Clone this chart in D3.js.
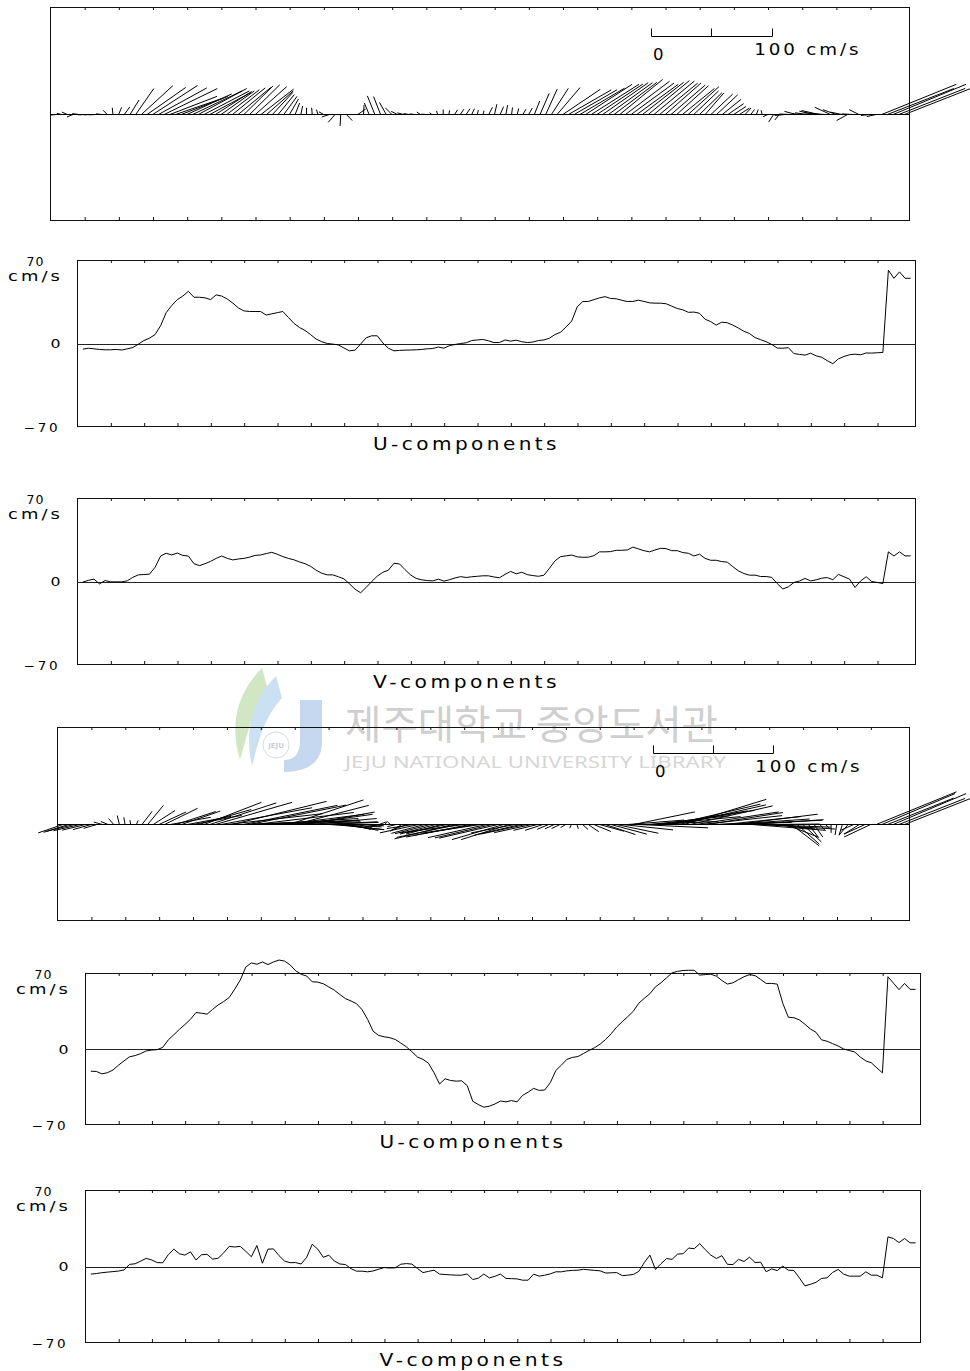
<!DOCTYPE html>
<html>
<head>
<meta charset="utf-8">
<script src="https://cdn.jsdelivr.net/npm/d3@7"></script>
<style>
  body { margin: 0; background: #fff; }
  svg { display: block; }
  text { font-family: "DejaVu Sans", sans-serif; fill: #000; }
</style>
</head>
<body>
<svg id="chart" width="970" height="1371"></svg>
<script>
"use strict";

// time axis: one sample every 4 hours, first sample a little after day 0
const START_DAY = 0.16;
const STEP_DAY = 1 / 6;
const DAY_SPAN = 25.14;
const dayTicks = d3.range(1, 25);
const valueTicks = [70, 0, -70];

// upper set (cm/s)
const uA = [
  -4.8, -4, -4.5, -5, -5.3, -5.3, -5, -5.5, -4.5, -3.4,
  -0.5, 2.5, 4.5, 7.5, 15, 26, 32, 37, 40, 44,
  39, 39, 38.5, 37, 41, 40, 37.5, 34, 30, 27.5,
  27, 27, 27, 24, 25, 26, 27, 22, 17, 13.5,
  11, 7.5, 3.7, 1.5, 0, -0.5, -1.2, -3.8, -6.2, -5.6,
  -0.5, 4.8, 6.5, 6.5, 0.5, -4, -6.2, -5.8, -5.6, -5.5,
  -5.3, -5, -4.5, -4.2, -3, -4, -1.8, -0.8, 0, 0.6,
  2.5, 3, 3.4, 2.3, 0.8, 0.8, 3, 2, 2.8, 1.5,
  0.8, 1.2, 2.5, 3, 4.5, 7.6, 9.5, 14, 19, 31,
  35.4, 35.5, 37, 38.5, 39.5, 38, 37.7, 36.5, 35.4, 35.5,
  36.5, 35.5, 34.3, 34, 34, 33.5, 31.5, 29.5, 28.4, 26.3,
  26.5, 25.5, 20.5, 18.5, 15.5, 18, 17.5, 15.5, 13, 10.3,
  8.4, 5, 3.2, 1.5, -0.8, -3.9, -4, -3.5, -8.5, -9.2,
  -9.8, -8.2, -10.4, -11.6, -14.5, -17, -13, -11, -9.5, -9,
  -9.5, -8, -8.1, -7.8, -7.6, 61.8, 55, 60.4, 55, 55
];
const vA = [
  -0.5, 1, 2, -2, 0.8, -0.3, -0.3, -0.3, 0.6, 3.5,
  5.6, 5.9, 6.2, 12, 21.5, 23.8, 22.4, 24, 22, 21.5,
  15, 13.4, 15, 17, 19.5, 21.5, 19.5, 18.2, 19, 19.5,
  20.5, 22, 22.4, 23.5, 24.6, 23, 21, 19.5, 18.3, 16.5,
  15, 12.8, 9.5, 7, 5.6, 5.6, 4, 2.2, -2, -6.5,
  -9.5, -5, 0, 4.5, 7.8, 9.5, 15.4, 14.8, 10, 5.5,
  2.6, 1.4, 0.8, 0.5, 2, 0.3, 1.5, 3, 4.1, 3.4,
  4, 4.4, 4.8, 4.8, 3.8, 3.2, 6, 8.5, 6.5, 7.8,
  5.8, 5, 4.4, 5.3, 11.2, 17.5, 21, 21.6, 22.3, 20.8,
  20.4, 20.5, 21.8, 25, 25, 25.2, 26.3, 26.3, 26.6, 29,
  27.5, 26, 25, 26.6, 28, 27.7, 26, 26, 24.4, 23.8,
  21.5, 23, 19.5, 17.9, 17.9, 16.8, 16.3, 12.5, 9, 6.7,
  5.3, 5.4, 4.2, 4.2, 3.5, -1.8, -6.3, -4.5, -0.8, 0.4,
  2.6, 0.5, 1.4, 2.8, 3.3, 1.5, 6, 4, 2, -5,
  0.5, 4, 0, -0.8, -1.7, 25, 21.5, 25, 21.6, 21.6
];

// lower set (cm/s)
const uB = [
  -20.6, -20.8, -23, -22, -19.5, -15, -11, -7.2, -6.1, -4.3,
  -1.8, -1, -0.6, 1.5, 8.5, 13.2, 18.2, 22.7, 27.5, 33.8,
  33.2, 32.3, 36.7, 40.8, 44, 47.8, 55.5, 64, 76, 79.8,
  78.6, 80.7, 78.3, 80.7, 82.5, 81.5, 78, 72.5, 69.3, 67.6,
  62.3, 62, 60.5, 57.5, 54.5, 50.5, 46.7, 44.5, 42, 36.5,
  27.5, 16.5, 12.6, 11.3, 10.5, 8.8, 5.5, 2, -2.5, -7.4,
  -9.6, -13.2, -22, -32.5, -27.6, -29.2, -29.8, -29.5, -34, -48.5,
  -51.5, -54, -53, -51, -48.2, -49, -47.8, -49, -43, -40,
  -36.5, -38.4, -38, -31.3, -20, -15, -9.6, -7.8, -7, -4.2,
  -1.3, 1.2, 4.5, 8.8, 14.1, 20.4, 25.3, 30, 35, 42.5,
  47, 51.3, 57.6, 61.4, 66, 70.6, 72, 72.8, 73, 73,
  68.5, 69, 69.4, 67.5, 63.5, 60.2, 61.4, 64.3, 67, 69,
  68, 64.5, 60.8, 60.8, 60.2, 42.4, 29.5, 29, 27, 23,
  18.5, 15.5, 8.5, 7.2, 5, 2.8, 0, -1.4, -2.8, -7.5,
  -11, -12.8, -17.5, -22.1, 67, 61, 55, 60.8, 55.3, 55.3
];
const vB = [
  -7, -6.5, -5.7, -5.2, -4.7, -4.2, -3.2, 2, 2.5, 4.9,
  7.5, 6, 3.6, 3.4, 11, 16, 11.7, 10.5, 13.5, 6,
  10.8, 11.2, 6.8, 7.6, 12.5, 18.5, 18, 18.5, 14, 9,
  19.3, 3, 16, 16.2, 10, 5, 3.5, 3.6, 2.3, 8.5,
  20.5, 16, 8.5, 10.4, 5, 2.3, 1.8, -2, -4.3, -4.3,
  -4.9, -4.1, -2.5, -1, -1.4, -1.2, 2.1, 2.7, 2.2, -1.8,
  -5.6, -4.5, -3.4, -7, -7.4, -7.7, -8, -8, -6.9, -12,
  -10.8, -7, -10.5, -9, -7, -11, -11.2, -11.4, -12.6, -12.6,
  -7, -8.9, -8, -6.8, -4.9, -4.9, -4, -3.6, -3.4, -2.6,
  -3.1, -3.6, -4, -6, -5.8, -5.6, -8.4, -8, -7.3, -4.5,
  3.7, 10.5, -2.8, 2.6, 7.3, 6.6, 11.4, 11.8, 17, 16.4,
  21, 15.5, 10.5, 7.4, 10, 2, 1.8, 6.6, 4.6, 8.6,
  3.6, 4, -4.8, -2.2, -3.8, 0.4, -3.4, -3.7, -10.5, -17.8,
  -16.4, -14.6, -11, -10.4, -5.5, -2.7, -7, -8.9, -8.9, -8.9,
  -4.9, -8, -8, -10.4, 27.3, 25.8, 22, 25.8, 21.8, 21.8
];

// page layout
const stickPanels = [
  { u: uA, v: vA, left: 50.5, right: 909.5, top: 7.5, bottom: 220.5, barX: 651.5, barY: 36.5 },
  { u: uB, v: vB, left: 57.5, right: 909.5, top: 727.5, bottom: 920.5, barX: 653.5, barY: 753.5 }
];
const seriesPanels = [
  { data: uA, title: "U-components", left: 77.5, right: 915.5, top: 260.5, bottom: 426.5 },
  { data: vA, title: "V-components", left: 77.5, right: 915.5, top: 498.5, bottom: 664.5 },
  { data: uB, title: "U-components", left: 85.5, right: 920.5, top: 973.5, bottom: 1124.5 },
  { data: vB, title: "V-components", left: 85.5, right: 920.5, top: 1190.5, bottom: 1342.5 }
];

const svg = d3.select("#chart");
const dayOf = i => START_DAY + i * STEP_DAY;
const fmt = d3.format("d");

// the plotter font is wide and open: add letter spacing, then stretch a little to the measured width
function wide(sel, size, width, spacing) {
  return sel.attr("font-size", size)
    .style("letter-spacing", `${spacing}px`)
    .attr("textLength", width)
    .attr("lengthAdjust", "spacingAndGlyphs");
}

// watermark sits underneath everything
drawWatermark(svg.append("g").attr("id", "watermark"));

function frameAndTicks(g, x, top, bottom, left, right) {
  g.append("rect")
    .attr("x", left).attr("y", top)
    .attr("width", right - left).attr("height", bottom - top)
    .attr("fill", "none").attr("stroke", "#111").attr("stroke-width", 1);
  g.append("g")
    .attr("transform", `translate(0,${top - 0.5})`)
    .call(d3.axisBottom(x).tickValues(dayTicks).tickSize(3).tickFormat(""))
    .call(a => a.select(".domain").remove())
    .call(a => a.selectAll("line").attr("stroke", "#111"));
  g.append("g")
    .attr("transform", `translate(0,${bottom - 0.5})`)
    .call(d3.axisTop(x).tickValues(dayTicks).tickSize(3).tickFormat(""))
    .call(a => a.select(".domain").remove())
    .call(a => a.selectAll("line").attr("stroke", "#111"));
}

// stick (vector) plots
stickPanels.forEach((p, n) => {
  const g = svg.append("g").attr("id", `stick${n}`);
  const x = d3.scaleLinear().domain([0, DAY_SPAN]).range([p.left, p.right]);
  const speed = d3.scaleLinear().domain([0, 100]).range([0, 0.1406 * (p.right - p.left)]);
  const yb = Math.round((p.top + p.bottom) / 2) + 0.5;

  frameAndTicks(g, x, p.top, p.bottom, p.left, p.right);

  g.append("line")
    .attr("x1", p.left).attr("x2", p.right)
    .attr("y1", yb).attr("y2", yb)
    .attr("stroke", "#000");

  g.append("g").selectAll("line")
    .data(p.u.map((u, i) => ({ t: dayOf(i), u: u, v: p.v[i] })))
    .join("line")
    .attr("x1", d => x(d.t))
    .attr("y1", yb)
    .attr("x2", d => x(d.t) + speed(d.u))
    .attr("y2", d => yb - speed(d.v))
    .attr("stroke", "#000")
    .attr("stroke-width", 1);

  // 0 - 100 cm/s scale bar
  const bar = g.append("g").attr("transform", `translate(${p.barX},${p.barY})`);
  bar.append("line").attr("x1", 0).attr("x2", speed(100)).attr("stroke", "#000");
  bar.selectAll("line.tk")
    .data([0, 50, 100])
    .join("line").attr("class", "tk")
    .attr("x1", d => Math.round(speed(d))).attr("x2", d => Math.round(speed(d)))
    .attr("y1", 0).attr("y2", -8)
    .attr("stroke", "#000");
  bar.append("text")
    .attr("x", 1.5).attr("y", 23)
    .attr("font-size", 16.5)
    .text("0");
  wide(bar.append("text"), 16, 107, 2.5)
    .attr("x", speed(100) - 18).attr("y", 18)
    .text("100 cm/s");
});

// U / V time series
seriesPanels.forEach((p, n) => {
  const g = svg.append("g").attr("id", `series${n}`);
  const x = d3.scaleLinear().domain([0, DAY_SPAN]).range([p.left, p.right]);
  const y = d3.scaleLinear().domain([-70, 70]).range([p.bottom, p.top]);

  frameAndTicks(g, x, p.top, p.bottom, p.left, p.right);

  const y0 = Math.round(y(0)) + 0.5;
  g.append("line")
    .attr("x1", p.left).attr("x2", p.right)
    .attr("y1", y0).attr("y2", y0)
    .attr("stroke", "#222");

  g.append("path")
    .datum(p.data)
    .attr("fill", "none")
    .attr("stroke", "#000")
    .attr("stroke-width", 1)
    .attr("stroke-linejoin", "round")
    .attr("d", d3.line().x((d, i) => x(dayOf(i))).y(d => y(d)));

  // value labels
  const labelX = p.left - 17;
  const midX = p.left - 42;
  valueTicks.forEach(v => {
    const t = g.append("text").text(fmt(v));
    if (v === 70) {
      wide(t, 12, 18, 1).attr("x", midX).attr("y", p.top + 5).attr("text-anchor", "middle");
    } else if (v === 0) {
      wide(t, 12.5, 10, 0).attr("x", labelX).attr("y", y(0) + 4.5).attr("text-anchor", "end");
    } else {
      wide(t, 12, 37, 2.5).attr("x", labelX).attr("y", p.bottom + 5).attr("text-anchor", "end");
    }
  });
  wide(g.append("text"), 14.5, 55, 2.5)
    .attr("x", midX).attr("y", p.top + 20.5)
    .attr("text-anchor", "middle")
    .text("cm/s");

  wide(g.append("text"), 17.5, 187, 3)
    .attr("x", (p.left + p.right) / 2 - 30)
    .attr("y", p.bottom + 23.5)
    .attr("text-anchor", "middle")
    .text(p.title);
});

function drawWatermark(g) {
  g.attr("opacity", 0.4);
  // leaf swooshes
  g.append("path")
    .attr("d", "M262,668 C240,690 228,720 240,760 C246,740 250,715 268,690 Z")
    .attr("fill", "#8fc46a");
  g.append("path")
    .attr("d", "M276,676 C252,700 244,730 252,766 C258,745 262,720 282,698 Z")
    .attr("fill", "#7fb6e0");
  // J block
  g.append("path")
    .attr("d", "M300,700 L322,700 L322,742 C322,762 308,772 284,772 L284,760 C296,760 300,752 300,740 Z")
    .attr("fill", "#6f9fd8");
  g.append("circle")
    .attr("cx", 276).attr("cy", 745).attr("r", 13)
    .attr("fill", "#fff").attr("stroke", "#9ab").attr("stroke-width", 1);
  g.append("text")
    .attr("x", 276).attr("y", 748).attr("text-anchor", "middle")
    .attr("font-size", 7).attr("font-weight", "bold")
    .style("fill", "#789")
    .text("JEJU");
  g.append("text")
    .attr("x", 345).attr("y", 739)
    .attr("font-size", 40)
    .style("font-family", "'Noto Sans CJK KR', sans-serif")
    .style("fill", "#888")
    .attr("textLength", 373).attr("lengthAdjust", "spacingAndGlyphs")
    .text("제주대학교 중앙도서관");
  g.append("text")
    .attr("x", 345).attr("y", 768)
    .attr("font-size", 17)
    .style("font-family", "'Noto Sans', sans-serif")
    .style("fill", "#999")
    .attr("textLength", 381).attr("lengthAdjust", "spacingAndGlyphs")
    .text("JEJU NATIONAL UNIVERSITY  LIBRARY");
}
</script>
</body>
</html>
